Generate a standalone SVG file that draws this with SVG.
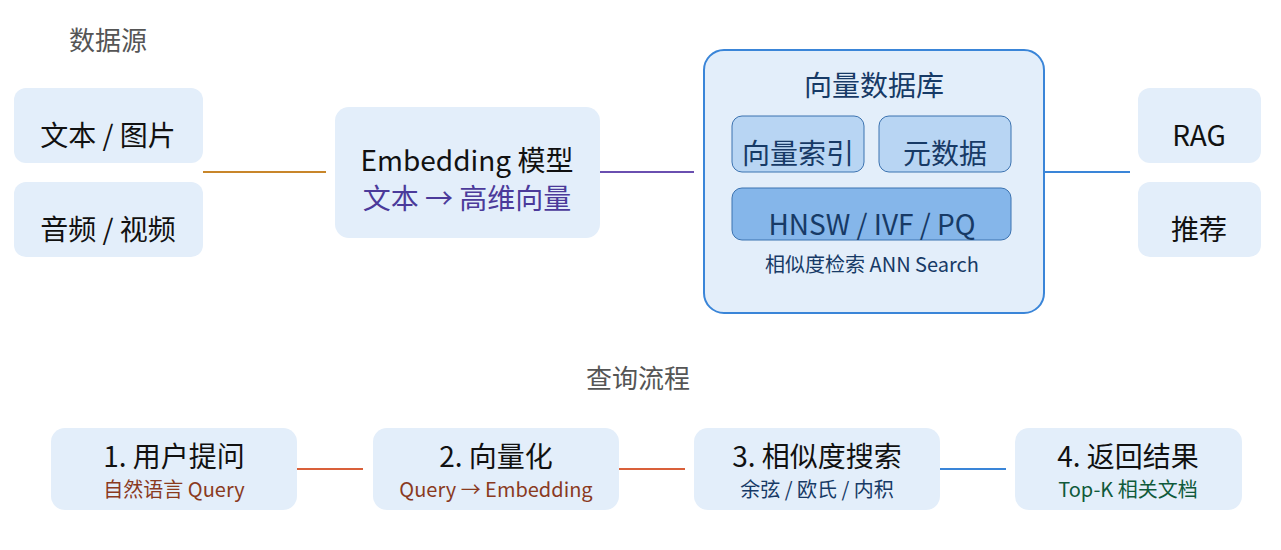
<svg xmlns="http://www.w3.org/2000/svg" width="1281" height="550" viewBox="0 0 1281 550">
<style>
text{font-family:"Noto Sans CJK SC","Noto Sans",sans-serif;text-anchor:middle}
.box{fill:#e3eefa}
.t{font-size:28px;fill:#111}
.h{font-size:26px;fill:#555}
.s{font-size:20px}
</style>
<rect width="1281" height="550" fill="#fff"/>
<text x="108" y="50" class="h">数据源</text>
<text x="638" y="388" class="h">查询流程</text>
<g id="connectors" stroke-width="2" fill="none">
<line x1="203" y1="172" x2="326" y2="172" stroke="#c8862a"/>
<line x1="600" y1="172" x2="694" y2="172" stroke="#6a4fb0"/>
<line x1="1044" y1="172" x2="1130" y2="172" stroke="#3a85d8"/>
<line x1="297" y1="469" x2="363" y2="469" stroke="#d9603a"/>
<line x1="619" y1="469" x2="685" y2="469" stroke="#d9603a"/>
<line x1="940" y1="469" x2="1006" y2="469" stroke="#3a85d8"/>
</g>
<g id="n-text"><rect class="box" x="14" y="88" width="189" height="75" rx="12"/><text x="108" y="146" class="t">文本 / 图片</text></g>
<g id="n-av"><rect class="box" x="14" y="182" width="189" height="75" rx="12"/><text x="108" y="240" class="t">音频 / 视频</text></g>
<g id="n-emb"><rect class="box" x="335" y="107" width="265" height="131" rx="14"/><text x="467" y="171" class="t">Embedding 模型</text><text x="467" y="209" class="t" fill="#4b3a9a" style="fill:#4b3a9a">文本 → 高维向量</text></g>
<g id="n-db">
<rect x="704" y="50" width="340" height="263" rx="20" fill="#e3eefa" stroke="#3a85d8" stroke-width="2"/>
<text x="874" y="96" class="t" style="fill:#173a66">向量数据库</text>
<rect x="732" y="116" width="132" height="56" rx="10" fill="#b8d5f3" stroke="#3b72b0"/>
<text x="798" y="164" class="t" style="fill:#173a66">向量索引</text>
<rect x="879" y="116" width="132" height="56" rx="10" fill="#b8d5f3" stroke="#3b72b0"/>
<text x="945" y="164" class="t" style="fill:#173a66">元数据</text>
<rect x="732" y="188" width="279" height="52" rx="10" fill="#85b6ea" stroke="#3b72b0"/>
<text x="872" y="235" class="t" style="fill:#173a66">HNSW / IVF / PQ</text>
<text x="872" y="272" class="s" style="fill:#173a66">相似度检索 ANN Search</text>
</g>
<g id="n-rag"><rect class="box" x="1138" y="88" width="123" height="75" rx="12"/><text x="1199" y="146" class="t">RAG</text></g>
<g id="n-rec"><rect class="box" x="1138" y="182" width="123" height="75" rx="12"/><text x="1199" y="240" class="t">推荐</text></g>
<g id="q1"><rect class="box" x="51" y="428" width="246" height="82" rx="14"/><text x="174" y="467" class="t">1. 用户提问</text><text x="174" y="497" class="s" style="fill:#8a3a1e">自然语言 Query</text></g>
<g id="q2"><rect class="box" x="373" y="428" width="246" height="82" rx="14"/><text x="496" y="467" class="t">2. 向量化</text><text x="496" y="497" class="s" style="fill:#8a3a1e">Query → Embedding</text></g>
<g id="q3"><rect class="box" x="694" y="428" width="246" height="82" rx="14"/><text x="817" y="467" class="t">3. 相似度搜索</text><text x="817" y="497" class="s" style="fill:#173a66">余弦 / 欧氏 / 内积</text></g>
<g id="q4"><rect class="box" x="1015" y="428" width="227" height="82" rx="14"/><text x="1128" y="467" class="t">4. 返回结果</text><text x="1128" y="497" class="s" style="fill:#0f5a3a">Top-K 相关文档</text></g>
</svg>
